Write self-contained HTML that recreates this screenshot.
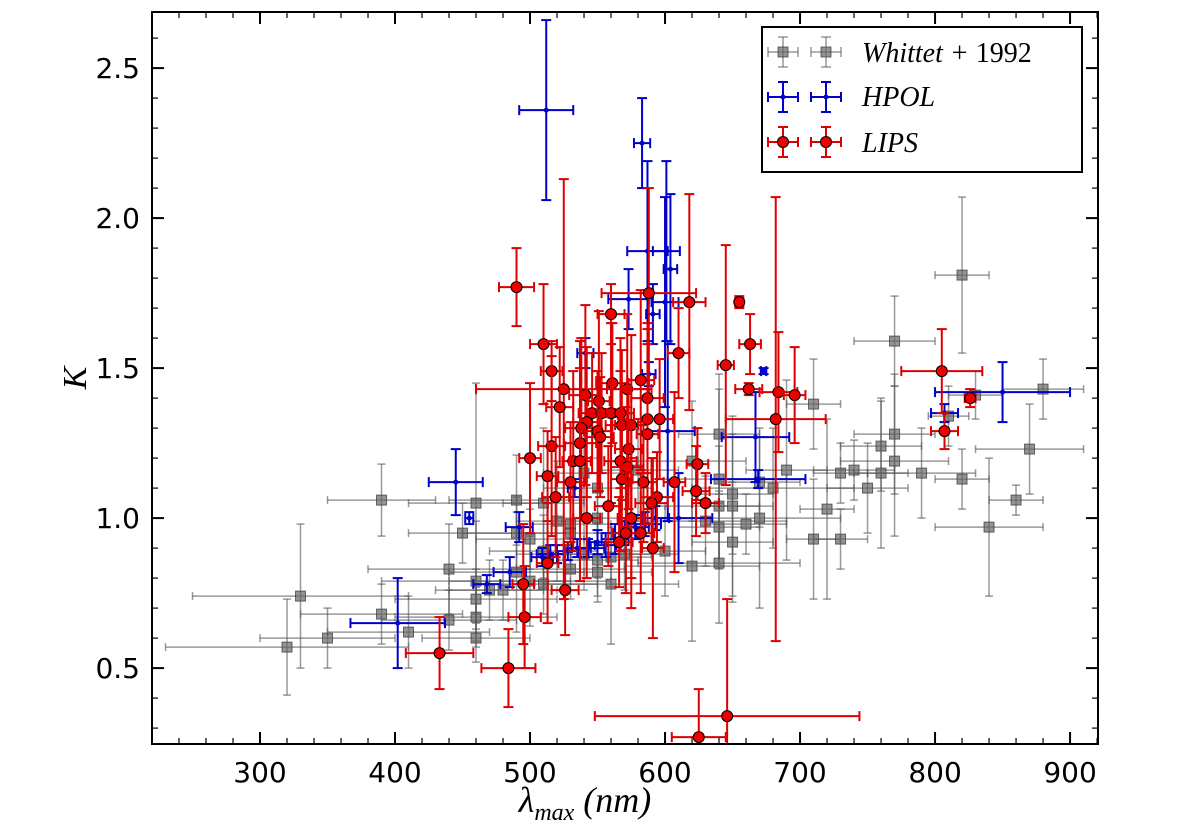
<!DOCTYPE html>
<html><head><meta charset="utf-8">
<style>
html,body{margin:0;padding:0;background:#fff;}
svg{display:block;font-family:"DejaVu Sans","Liberation Sans",sans-serif;}
</style></head>
<body>
<svg id="chart" width="1200" height="834" viewBox="0 0 1200 834" xmlns="http://www.w3.org/2000/svg">
<defs><clipPath id="clip"><rect x="152" y="12" width="946" height="732"/></clipPath></defs>
<rect width="1200" height="834" fill="#fff"/>
<g id="marks" clip-path="url(#clip)"></g>
<g id="axes"></g>
<text x="585" y="812" text-anchor="middle" font-family="Liberation Serif, serif" font-style="italic" font-size="36">λ<tspan font-size="24" dy="8">max</tspan><tspan dy="-8"> (nm)</tspan></text>
<text x="86" y="378" font-family="Liberation Serif, serif" font-style="italic" font-size="34" transform="rotate(-90 86 378)" text-anchor="middle">K</text>
<g>
<rect x="762" y="27" width="320" height="145" fill="#fff" stroke="#000" stroke-width="2"/>
<g id="legend-marks"></g>
<text x="862" y="62" font-family="Liberation Serif, serif" font-style="italic" font-size="28">Whittet + <tspan font-style="normal">1992</tspan></text>
<text x="862" y="106" font-family="Liberation Serif, serif" font-style="italic" font-size="28">HPOL</text>
<text x="862" y="152" font-family="Liberation Serif, serif" font-style="italic" font-size="28">LIPS</text>
</g>
</svg>
<script>
const xTicks=[300,400,500,600,700,800,900];
const yTicks=[0.5,1.0,1.5,2.0,2.5];
const gx=[320,330,350,390,390,410,440,440,450,460,460,460,460,460,470,480,490,490,490,500,500,510,510,510,520,530,530,530,540,540,550,550,550,550,560,560,570,580,600,620,620,630,640,640,640,640,640,650,650,650,660,670,670,680,690,710,710,720,730,730,740,750,760,760,770,770,770,790,810,820,820,830,840,860,870,880];
const gy=[0.57,0.74,0.60,1.06,0.68,0.62,0.83,0.66,0.95,1.05,0.79,0.73,0.67,0.60,0.76,0.76,1.06,0.95,0.82,0.93,0.79,1.05,0.89,0.78,0.99,0.98,0.95,0.83,1.15,0.88,1.10,1.00,0.86,0.82,0.87,0.78,0.88,1.16,0.89,1.19,0.84,0.99,1.28,1.13,1.04,0.97,0.85,1.08,1.04,0.92,0.98,1.12,1.00,1.10,1.16,1.38,0.93,1.03,1.15,0.93,1.16,1.10,1.24,1.15,1.59,1.28,1.19,1.15,1.34,1.81,1.13,1.41,0.97,1.06,1.23,1.43];
const gxe=[90,80,50,40,60,60,60,50,40,50,70,60,60,40,40,40,50,40,50,40,60,30,40,40,30,30,40,40,30,50,40,30,30,40,30,50,40,30,30,40,50,60,30,50,40,30,60,30,20,30,30,30,60,60,30,20,20,20,20,20,30,30,30,20,30,30,40,40,15,20,20,20,40,20,40,30];
const gye=[0.16,0.24,0.1,0.12,0.1,0.12,0.15,0.1,0.1,0.4,0.2,0.1,0.1,0.08,0.1,0.1,0.15,0.12,0.2,0.1,0.15,0.25,0.12,0.1,0.2,0.15,0.12,0.1,0.15,0.12,0.15,0.2,0.12,0.1,0.1,0.2,0.12,0.15,0.15,0.2,0.25,0.15,0.2,0.3,0.2,0.12,0.2,0.2,0.3,0.2,0.1,0.15,0.3,0.2,0.3,0.15,0.2,0.3,0.1,0.1,0.1,0.15,0.15,0.25,0.15,0.2,0.25,0.15,0.1,0.26,0.1,0.08,0.23,0.05,0.15,0.1];
const bx=[512,583,587,601,604,573,600,591,541,588,673,602,667,669,445,455,402,485,468,492,509,515,520,528,535,543,550,556,563,570,578,585,593,610,850,807,533];
const by=[2.36,2.25,1.89,1.89,1.83,1.73,1.72,1.68,1.55,1.48,1.49,1.29,1.27,1.13,1.12,1.0,0.65,0.82,0.78,0.97,0.87,0.88,0.88,0.89,0.9,0.9,0.92,0.91,0.93,0.95,0.97,0.98,1.0,1.0,1.42,1.35,1.10];
const bxe=[20,6,15,10,5,15,10,5,6,5,2,20,25,35,20,3,35,12,10,10,8,10,5,8,10,12,6,8,10,8,10,12,10,25,50,10,5];
const bye=[0.3,0.15,0.3,0.3,0.25,0.1,0.35,0.1,0.05,0.04,0.01,0.3,0.15,0.03,0.11,0.02,0.15,0.05,0.03,0.05,0.03,0.03,0.03,0.03,0.03,0.03,0.04,0.04,0.05,0.04,0.04,0.04,0.04,0.15,0.1,0.03,0.03];
const rx=[490,510,516,525,522,541,551,560,561,572,582,588,587,618,610,655,663,645,662,546,553,560,567,542,538,550,552,568,575,587,596,587,516,537,573,500,532,537,567,572,624,513,530,568,584,607,623,630,519,594,590,558,542,575,684,696,682,805,826,807,575,582,571,566,591,433,484,496,495,513,526,625,646];
const ry=[1.77,1.58,1.49,1.43,1.37,1.41,1.39,1.68,1.45,1.43,1.46,1.75,1.40,1.72,1.55,1.72,1.58,1.51,1.43,1.35,1.35,1.35,1.35,1.32,1.30,1.29,1.27,1.31,1.31,1.33,1.33,1.28,1.24,1.25,1.23,1.20,1.19,1.19,1.19,1.17,1.18,1.14,1.12,1.13,1.12,1.12,1.09,1.05,1.07,1.07,1.05,1.04,1.00,1.00,1.42,1.41,1.33,1.49,1.40,1.29,1.00,0.95,0.95,0.92,0.90,0.55,0.50,0.67,0.78,0.85,0.76,0.27,0.34];
const rxe=[13,10,8,65,10,12,8,10,12,15,10,35,12,12,8,3,8,6,10,10,10,10,10,10,12,10,10,12,12,10,10,8,10,12,10,8,8,8,12,12,8,8,10,8,10,8,10,10,10,12,12,10,10,10,14,8,37,30,4,10,10,10,10,10,8,25,20,12,8,8,10,20,98];
const rye=[0.13,0.2,0.1,0.7,0.2,0.3,0.3,0.1,0.2,0.25,0.3,0.35,0.25,0.36,0.15,0.02,0.1,0.4,0.02,0.2,0.2,0.3,0.25,0.25,0.3,0.2,0.2,0.25,0.3,0.3,0.2,0.3,0.3,0.25,0.2,0.25,0.3,0.4,0.3,0.2,0.12,0.15,0.2,0.2,0.2,0.3,0.15,0.1,0.2,0.15,0.15,0.2,0.2,0.2,0.2,0.16,0.74,0.14,0.03,0.06,0.3,0.2,0.2,0.15,0.3,0.12,0.13,0.17,0.2,0.2,0.15,0.16,0.39];

const X0=152,X1=1098,Y0=12,Y1=744;
const XMIN=220,XMAX=920.7,YMIN=0.247,YMAX=2.687;
function sx(v){return X0+(v-XMIN)/(XMAX-XMIN)*(X1-X0);}
function sy(v){return Y1-(v-YMIN)/(YMAX-YMIN)*(Y1-Y0);}
const NS="http://www.w3.org/2000/svg";
function mk(tag,attrs,parent){const e=document.createElementNS(NS,tag);for(const k in attrs)e.setAttribute(k,attrs[k]);parent.appendChild(e);return e;}
const marks=document.getElementById('marks');
const axes=document.getElementById('axes');

function series(xs,ys,xe,ye,style,name){
  const g=mk('g',{},marks);
  
  
  for(let i=0;i<xs.length;i++){
    const cx=sx(xs[i]),cy=sy(ys[i]);
    const x1=sx(xs[i]-xe[i]),x2=sx(xs[i]+xe[i]),y1=sy(ys[i]+ye[i]),y2=sy(ys[i]-ye[i]);
    const pg=mk('g',{stroke:style.ecol,'stroke-width':style.ew,fill:'none','stroke-opacity':style.eop},g);
    
    
    const c=style.cap;
    mk('line',{x1:x1,y1:cy,x2:x2,y2:cy},pg);
    mk('line',{x1:cx,y1:y1,x2:cx,y2:y2},pg);
    mk('line',{x1:x1,y1:cy-c,x2:x1,y2:cy+c},pg);
    mk('line',{x1:x2,y1:cy-c,x2:x2,y2:cy+c},pg);
    mk('line',{x1:cx-c,y1:y1,x2:cx+c,y2:y1},pg);
    mk('line',{x1:cx-c,y1:y2,x2:cx+c,y2:y2},pg);
    let m;
    if(style.shape==='sq'){m=mk('rect',{x:cx-5,y:cy-5,width:10,height:10,fill:'#666','fill-opacity':0.7,stroke:'#333','stroke-opacity':0.7,'stroke-width':1},g);}
    else if(style.shape==='dot'){m=mk('circle',{cx:cx,cy:cy,r:2.5,fill:'#0000cc'},g);}
    else {m=mk('circle',{cx:cx,cy:cy,r:5.5,fill:'#ee0000',stroke:'#000','stroke-width':1},g);}
    
    
  }
}
series(gx,gy,gxe,gye,{ecol:'#555',ew:1.5,eop:0.6,cap:4,shape:'sq'},'whittet');
series(bx,by,bxe,bye,{ecol:'#0000cc',ew:2,eop:1,cap:5,shape:'dot'},'hpol');
series(rx,ry,rxe,rye,{ecol:'#dd0000',ew:2,eop:1,cap:5,shape:'circ'},'lips');

const fr=mk('rect',{x:X0,y:Y0,width:X1-X0,height:Y1-Y0,fill:'none',stroke:'#000','stroke-width':2},axes);


for(let v=240;v<=920;v+=20){
  const px=sx(v);const major=(v%100===0);const L=major?12:6;
  mk('line',{x1:px,y1:Y1,x2:px,y2:Y1-L,stroke:'#000','stroke-width':major?2:1.2},axes);
  mk('line',{x1:px,y1:Y0,x2:px,y2:Y0+L,stroke:'#000','stroke-width':major?2:1.2},axes);
}
xTicks.forEach(v=>{
  const t=mk('text',{x:sx(v),y:782,'text-anchor':'middle','font-size':28},axes);
  t.textContent=String(v);
  
  
});
for(let k=3;k<=26;k++){
  const v=k/10;const py=sy(v);const major=(k%5===0);const L=major?12:6;
  mk('line',{x1:X0,y1:py,x2:X0+L,y2:py,stroke:'#000','stroke-width':major?2:1.2},axes);
  mk('line',{x1:X1,y1:py,x2:X1-L,y2:py,stroke:'#000','stroke-width':major?2:1.2},axes);
}
yTicks.forEach(v=>{
  const t=mk('text',{x:140,y:sy(v)+10,'text-anchor':'end','font-size':28},axes);
  t.textContent=v.toFixed(1);
  
  
});
const lg=document.getElementById('legend-marks');
const lrows=[[52,'#555','sq',0.6],[97,'#0000cc','dot',1],[142,'#dd0000','circ',1]];
lrows.forEach(r=>{
  [783,826].forEach(cx=>{
    const cy=r[0];
    const g=mk('g',{stroke:r[1],'stroke-width':r[2]==='sq'?1.5:2,'stroke-opacity':r[3]},lg);
    
    
    mk('line',{x1:cx-15,y1:cy,x2:cx+15,y2:cy},g);
    mk('line',{x1:cx,y1:cy-15,x2:cx,y2:cy+15},g);
    mk('line',{x1:cx-15,y1:cy-5,x2:cx-15,y2:cy+5},g);
    mk('line',{x1:cx+15,y1:cy-5,x2:cx+15,y2:cy+5},g);
    mk('line',{x1:cx-5,y1:cy-15,x2:cx+5,y2:cy-15},g);
    mk('line',{x1:cx-5,y1:cy+15,x2:cx+5,y2:cy+15},g);
    if(r[2]==='sq')mk('rect',{x:cx-5,y:cy-5,width:10,height:10,fill:'#666','fill-opacity':0.7,stroke:'#333','stroke-opacity':0.7},lg);
    else if(r[2]==='dot')mk('circle',{cx:cx,cy:cy,r:2.5,fill:'#0000cc'},lg);
    else mk('circle',{cx:cx,cy:cy,r:5.5,fill:'#ee0000',stroke:'#000'},lg);
  });
});
</script>
</body></html>
